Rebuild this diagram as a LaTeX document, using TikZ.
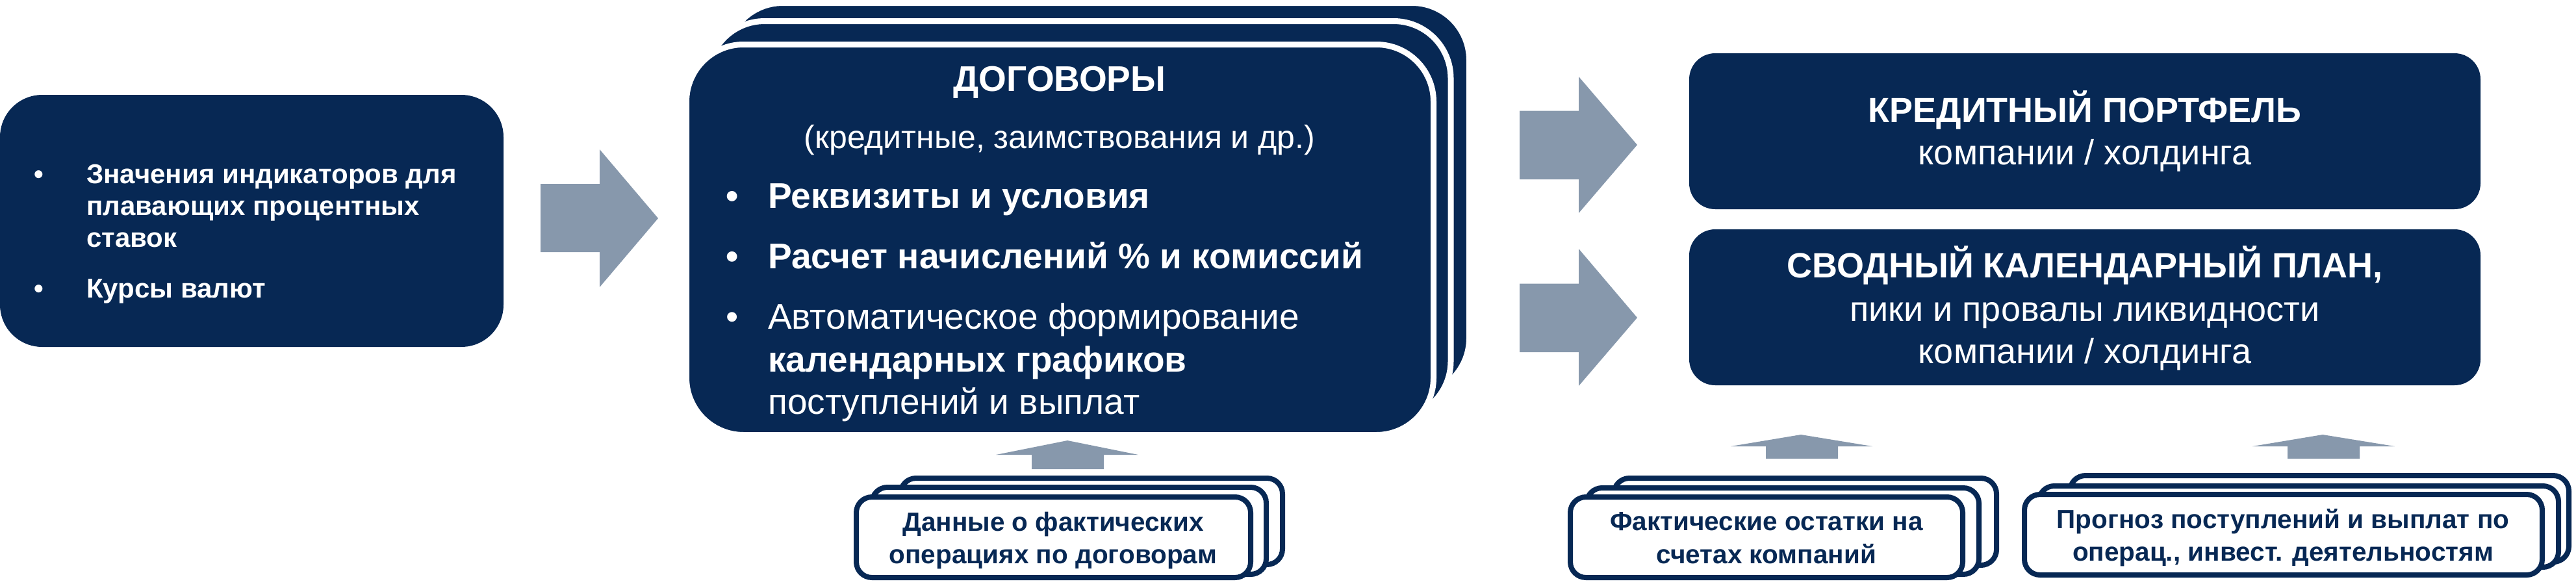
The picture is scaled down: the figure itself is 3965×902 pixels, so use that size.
\documentclass[tikz,border=0pt]{standalone}
\usepackage{fontspec}
\setmainfont{Liberation Sans}
\definecolor{navy}{RGB}{7,40,84}
\definecolor{arrgrey}{RGB}{135,152,172}
\begin{document}
\begin{tikzpicture}[x=1pt,y=-1pt,
  stackcard/.style={fill=navy,draw=white,line width=9pt,rounded corners=88pt},
  wcard/.style={fill=white,draw=navy,line width=8pt,rounded corners=24pt},
  blockarrow/.style={fill=arrgrey},
  wt/.style={text=white,inner sep=0pt},
  lefttxt/.style={wt,anchor=base west,font=\fontsize{42}{50}\selectfont\bfseries},
  leftbul/.style={wt,anchor=base,font=\fontsize{42}{50}\selectfont\bfseries},
  midbold/.style={wt,font=\fontsize{55}{66}\selectfont\bfseries},
  midreg/.style={wt,font=\fontsize{55}{66}\selectfont},
  rbold/.style={wt,anchor=base,font=\fontsize{54}{64}\selectfont\bfseries},
  rreg/.style={wt,anchor=base,font=\fontsize{54}{64}\selectfont},
  nt/.style={text=navy,inner sep=0pt,anchor=base,font=\fontsize{40.5}{48}\selectfont\bfseries},
]
\useasboundingbox (0,0) rectangle (3965,902);

% ---------- left box
\fill[navy,rounded corners=65pt] (0,146) rectangle (775,534);
\node[leftbul] (lb1) at (60,282) {•};
\node[lefttxt] (l1) at (133,282) {Значения индикаторов для};
\node[lefttxt] (l2) at (133,331) {плавающих процентных};
\node[lefttxt] (l3) at (133,380) {ставок};
\node[leftbul] (lb2) at (60,458) {•};
\node[lefttxt] (l4) at (133,458) {Курсы валют};

% ---------- arrow left -> contracts
\fill[blockarrow] (832,283) -- (923,283) -- (923,230) -- (1013,336) -- (923,442) -- (923,388) -- (832,388) -- cycle;

% ---------- contracts stack
\filldraw[stackcard] (1117,4.5) rectangle (2261.5,608.5);
\filldraw[stackcard] (1089,32.5) rectangle (2233,644);
\filldraw[stackcard] (1056.5,68.5) rectangle (2206.5,669.5);

\node[midbold,anchor=base] (m0) at (1631,140) {ДОГОВОРЫ};
\node[wt,anchor=base,font=\fontsize{50}{60}\selectfont] (m1) at (1631,228) {(кредитные, заимствования и др.)};
\node[midbold,anchor=base] (mb1) at (1127,320) {•};
\node[midbold,anchor=base west] (m2) at (1182,320) {Реквизиты и условия};
\node[midbold,anchor=base] (mb2) at (1127,413) {•};
\node[midbold,anchor=base west] (m3) at (1182,413) {Расчет начислений \% и комиссий};
\node[midreg,anchor=base] (mb3) at (1127,506) {•};
\node[midreg,anchor=base west] (m4) at (1182,506) {Автоматическое формирование};
\node[midbold,anchor=base west] (m5) at (1182,572) {календарных графиков};
\node[midreg,anchor=base west] (m6) at (1182,637) {поступлений и выплат};

% ---------- arrows to right boxes
\fill[blockarrow] (2339,170.5) -- (2430,170.5) -- (2430,118) -- (2520,223) -- (2430,328) -- (2430,276) -- (2339,276) -- cycle;
\fill[blockarrow] (2339,436.5) -- (2430,436.5) -- (2430,383) -- (2520,489) -- (2430,594) -- (2430,542) -- (2339,542) -- cycle;

% ---------- right boxes
\fill[navy,rounded corners=40pt] (2600,82) rectangle (3818,322);
\fill[navy,rounded corners=40pt] (2600,353) rectangle (3818,593);
\node[rbold] (r1) at (3209,188.5) {КРЕДИТНЫЙ ПОРТФЕЛЬ};
\node[rreg] (r2) at (3209,253) {компании / холдинга};
\node[rbold] (r3) at (3209,427) {СВОДНЫЙ КАЛЕНДАРНЫЙ ПЛАН,};
\node[rreg] (r4) at (3209,494) {пики и провалы ликвидности};
\node[rreg] (r5) at (3209,559) {компании / холдинга};

% ---------- up arrows
\fill[blockarrow] (1588,722) -- (1588,700) -- (1533,700) -- (1643,678) -- (1752,700) -- (1699,700) -- (1699,722) -- cycle;
\fill[blockarrow] (2718,706) -- (2718,687) -- (2664,687) -- (2772,669) -- (2882,687) -- (2829,687) -- (2829,706) -- cycle;
\fill[blockarrow] (3521,706) -- (3521,687) -- (3467,687) -- (3575,669) -- (3686,687) -- (3632,687) -- (3632,706) -- cycle;

% ---------- bottom stacks
\filldraw[wcard] (1386,736) rectangle (1974,869);
\filldraw[wcard] (1342,750) rectangle (1949,884);
\filldraw[wcard] (1318,765) rectangle (1925,889);
\node[nt] (s1a) at (1621,817) {Данные о фактических};
\node[nt] (s1b) at (1621,867) {операциях по договорам};

\filldraw[wcard] (2484,736) rectangle (3073,870);
\filldraw[wcard] (2442,751) rectangle (3046,884);
\filldraw[wcard] (2417,765) rectangle (3021,889);
\node[nt] (s2a) at (2719,816) {Фактические остатки на};
\node[nt] (s2b) at (2719,867) {счетах компаний};

\filldraw[wcard] (3186,732) rectangle (3954,865);
\filldraw[wcard] (3138,748) rectangle (3938,873);
\filldraw[wcard] (3116,761) rectangle (3913,885);
\node[nt] (s3a) at (3514,813) {Прогноз поступлений и выплат по};
\node[nt] (s3b) at (3514,863) {операц., инвест. деятельностям};
\end{tikzpicture}
\end{document}
